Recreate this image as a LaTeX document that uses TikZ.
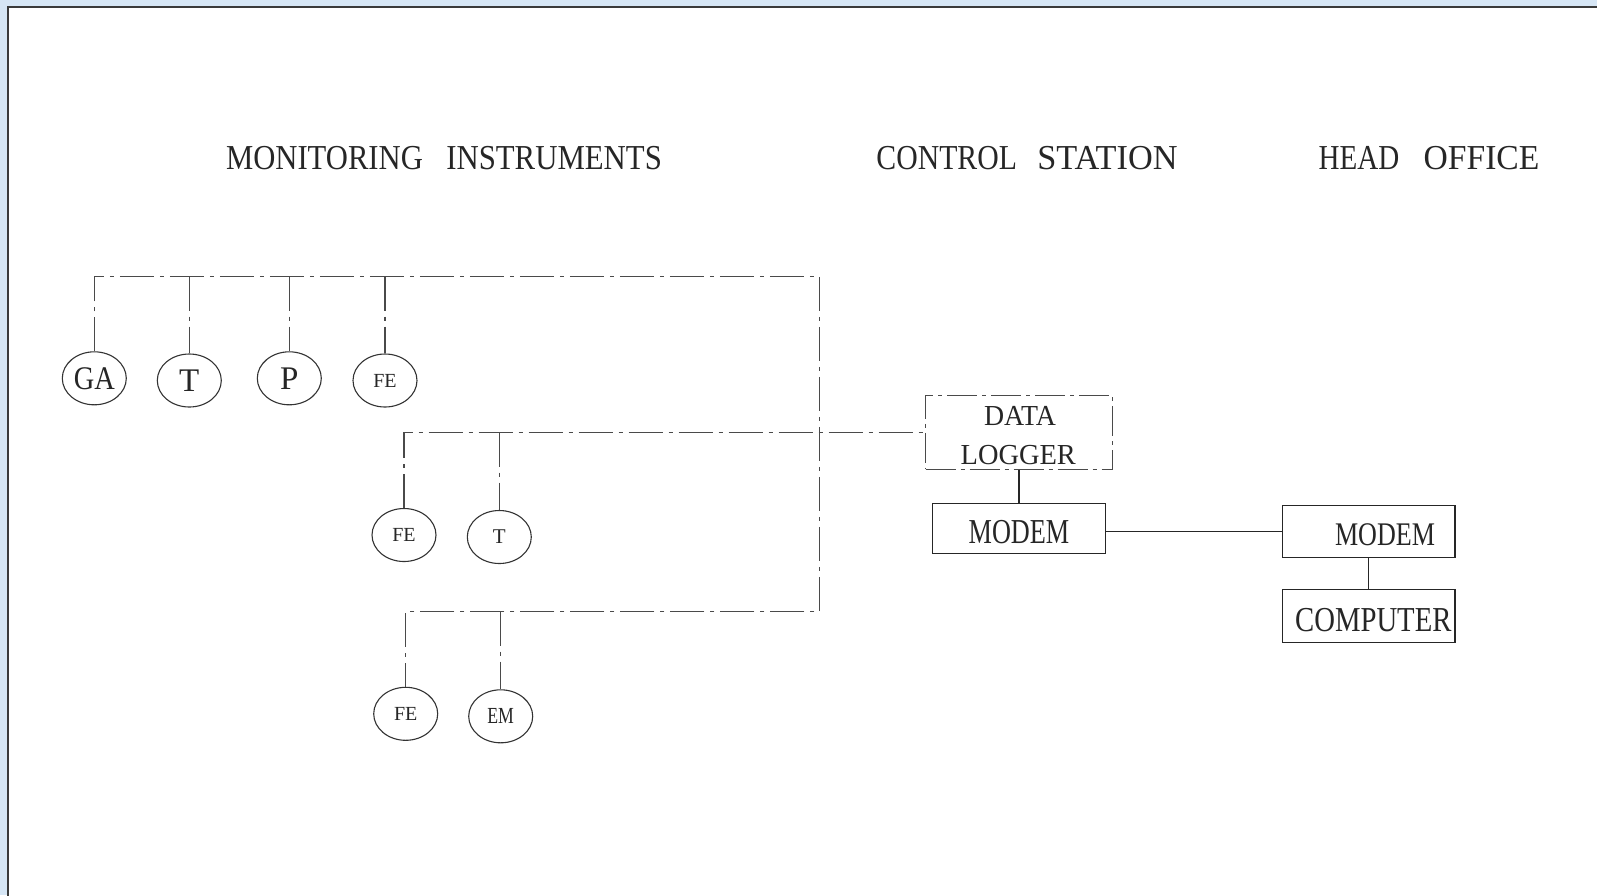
\documentclass[tikz,border=0pt]{standalone}
\usepackage{fontspec}
\setmainfont{Liberation Serif}
\usepackage{graphicx}
\usetikzlibrary{shapes.geometric}
\definecolor{bgblue}{HTML}{D6E6F5}
\definecolor{framec}{HTML}{3A3A3A}
\definecolor{lineg}{HTML}{4A4A4A}
\newcommand{\myfs}[1]{\fontsize{#1}{#1}\selectfont}
\newcommand{\sx}[2]{\scalebox{#1}[1]{#2}}
\begin{document}
\begin{tikzpicture}[x=1pt,y=-1pt,
  inst/.style={ellipse,draw=black!80,line width=1.1pt,minimum width=64pt,minimum height=53pt,inner sep=0pt,text=black!85},
  boxn/.style={draw=black!85,line width=1.2pt,inner sep=0pt},
  dlbox/.style={draw=lineg,line width=1.2pt,inner sep=0pt,dash pattern=on 30pt off 5pt on 4pt off 5pt},
  bus/.style={draw=lineg,line width=1.4pt,dash pattern=on 34pt off 6pt on 4pt off 6pt},
  txt/.style={inner sep=0pt,text=black!85},
  link/.style={draw=black!85,line width=1.2pt}]
\useasboundingbox (0,0) rectangle (1597,895);
\fill[bgblue] (0,0) rectangle (1597,895);
\fill[white] (8.3,7.3) rectangle (1597,895);
\draw[framec,line width=1.8pt] (8.3,900) -- (8.3,7.3) -- (1600,7.3);

% titles
\node[txt] (h1) at (444,158.5) {\myfs{35pt}\sx{0.875}{MONITORING}\hspace{23.4pt}\sx{0.88}{INSTRUMENTS}};
\node[txt] (h2) at (1027,158.5) {\myfs{35pt}\sx{0.85}{CONTROL}\hspace{20.4pt}\sx{0.98}{STATION}};
\node[txt] (h3) at (1429,158.5) {\myfs{35pt}\sx{0.83}{HEAD}\hspace{24.4pt}\sx{0.96}{OFFICE}};

% instruments
\node[inst] (ga) at (94.3,378.3) {\myfs{33pt}\sx{0.86}{GA}};
\node[inst] (t1) at (189.3,380.5) {\myfs{33pt}T};
\node[inst] (p1) at (289.3,378.3) {\myfs{33pt}P};
\node[inst] (fe1) at (385,380.5) {\myfs{20pt}FE};
\node[inst] (fe2) at (404,535) {\myfs{20pt}FE};
\node[inst] (t2) at (499.3,537) {\myfs{21pt}T};
\node[inst] (fe3) at (405.7,713.8) {\myfs{20pt}FE};
\node[inst] (em) at (500.7,716.3) {\myfs{23pt}\sx{0.77}{EM}};

% boxes
\node[dlbox,minimum width=186.6pt,minimum height=73.6pt] (dl) at (1019,432.5) {};
\node[boxn,minimum width=173.4pt,minimum height=50pt] (ml) at (1019,528.3) {};
\node[boxn,minimum width=172.7pt,minimum height=52pt] (mr) at (1368.7,531.7) {};
\node[boxn,minimum width=172.7pt,minimum height=53pt] (comp) at (1368.7,615.8) {};

\node[txt] (tdata) at (1020,415.5) {\myfs{29pt}\sx{0.96}{DATA}};
\node[txt] (tlog) at (1018.3,455.5) {\myfs{29pt}\sx{0.98}{LOGGER}};
\node[txt] (tml) at (1019,532) {\myfs{35pt}\sx{0.75}{MODEM}};
\node[txt] (tmr) at (1385,534.3) {\myfs{33pt}\sx{0.79}{MODEM}};
\node[txt] (tcomp) at (1373.3,620) {\myfs{35pt}\sx{0.82}{COMPUTER}};

% buses
\coordinate (c1) at (819.5,276.7);
\coordinate (c2) at (819.5,611.7);
\draw[bus] (ga.north) |- (c1) -- (c2) -| (fe3.north);
\draw[bus] (t1.north |- c1) -- (t1.north);
\draw[bus] (p1.north |- c1) -- (p1.north);
\draw[bus] (fe1.north |- c1) -- (fe1.north);
\draw[bus] (fe2.north) |- (dl.west);
\draw[bus] (t2.north |- dl.west) -- (t2.north);
\draw[bus] (em.north |- c2) -- (em.north);

% links
\draw[link] (dl.south) -- (ml.north);
\draw[link] (ml.east |- mr.west) -- (mr.west);
\draw[link] (mr.south) -- (comp.north);
\end{tikzpicture}
\end{document}
